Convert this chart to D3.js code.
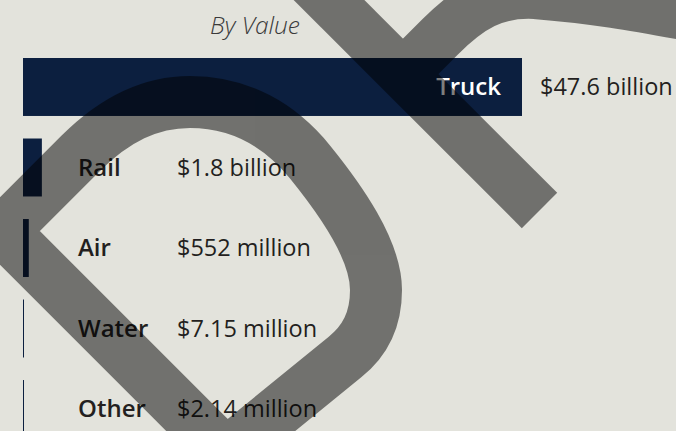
<!DOCTYPE html>
<html>
<head>
<meta charset="utf-8">
<script src="https://cdnjs.cloudflare.com/ajax/libs/d3/7.8.5/d3.min.js"></script>
<style>
  html, body { margin: 0; padding: 0; background: #e3e3dc; }
  svg { display: block; }
</style>
</head>
<body>
<div id="chart"></div>
<script>
// Freight by mode, value in billions of dollars
var modes = ["Truck", "Rail", "Air", "Water", "Other"];
var values = [47.6, 1.8, 0.552, 0.00715, 0.00214];
var valueLabels = ["$47.6 billion", "$1.8 billion", "$552 million", "$7.15 million", "$2.14 million"];
var chartTitle = "By Value";

var width = 676, height = 431;
var navy = "#0c1f3f", ink = "#231f20";

var svg = d3.select("#chart").append("svg")
    .attr("width", width)
    .attr("height", height);

svg.append("rect")
    .attr("width", width)
    .attr("height", height)
    .attr("fill", "#e3e3dc");

var x = d3.scaleLinear().domain([0, 47.6]).range([23, 522]);
var y = d3.scaleBand().domain(modes).range([58, 438]).paddingInner(0.28).paddingOuter(0);

var data = modes.map(function(m, i) {
  return {mode: m, value: values[i], label: valueLabels[i]};
});

// title
svg.append("text")
    .attr("x", 255)
    .attr("y", 34)
    .attr("text-anchor", "middle")
    .style("font-family", "'Open Sans', sans-serif")
    .style("font-style", "italic")
    .style("font-weight", 300)
    .style("font-size", "24.5px")
    .attr("fill", "#3a3a3a")
    .text(chartTitle);

// bars (tiny values still get a hairline)
svg.selectAll("rect.bar").data(data)
  .enter().append("rect")
    .attr("class", "bar")
    .attr("x", x(0))
    .attr("y", function(d) { return y(d.mode); })
    .attr("width", function(d) { return Math.max(1, x(d.value) - x(0)); })
    .attr("height", y.bandwidth())
    .attr("fill", navy);

function isWide(d) { return x(d.value) - x(0) > 200; }

// mode names: inside the bar when it is wide, else in a fixed column
svg.selectAll("text.mode").data(data)
  .enter().append("text")
    .attr("class", "mode")
    .attr("x", function(d) { return isWide(d) ? x(d.value) - 21 : 78; })
    .attr("y", function(d) { return y(d.mode) + y.bandwidth() / 2; })
    .attr("dy", "0.35em")
    .attr("text-anchor", function(d) { return isWide(d) ? "end" : "start"; })
    .style("font-family", "'Open Sans', sans-serif")
    .style("font-weight", 600)
    .style("font-size", "24px")
    .attr("fill", function(d) { return isWide(d) ? "#ffffff" : ink; })
    .text(function(d) { return d.mode; });

svg.selectAll("text.val").data(data)
  .enter().append("text")
    .attr("class", "val")
    .attr("x", function(d) { return isWide(d) ? x(d.value) + 18 : 177; })
    .attr("y", function(d) { return y(d.mode) + y.bandwidth() / 2; })
    .attr("dy", "0.35em")
    .style("font-family", "'Open Sans', sans-serif")
    .style("font-size", "23.5px")
    .attr("fill", ink)
    .text(function(d) { return d.label; });

// decorative stroke laid over the chart (half black, multiplies the page)
var deco = svg.append("g")
    .attr("opacity", 0.5)
    .attr("fill", "none")
    .attr("stroke", "#000");

deco.append("path")
    .attr("d", "M260,488 L3,231 L80,154 C115,119 150,102 190,102 C240,102 280,125 310,162 C340,199 376,250 376,290 C376,320 365,341 345,357 L200,475")
    .attr("stroke-width", 52)
    .attr("stroke-linejoin", "miter")
    .attr("stroke-miterlimit", 10);

deco.append("path")
    .attr("d", "M300,-29 L539.5,210.5")
    .attr("stroke-width", 50);

deco.append("path")
    .attr("d", "M403,74 L440,37 C470,7 495,-8 535,-6 C600,-1 650,9 700,18")
    .attr("stroke-width", 50);
</script>
</body>
</html>
